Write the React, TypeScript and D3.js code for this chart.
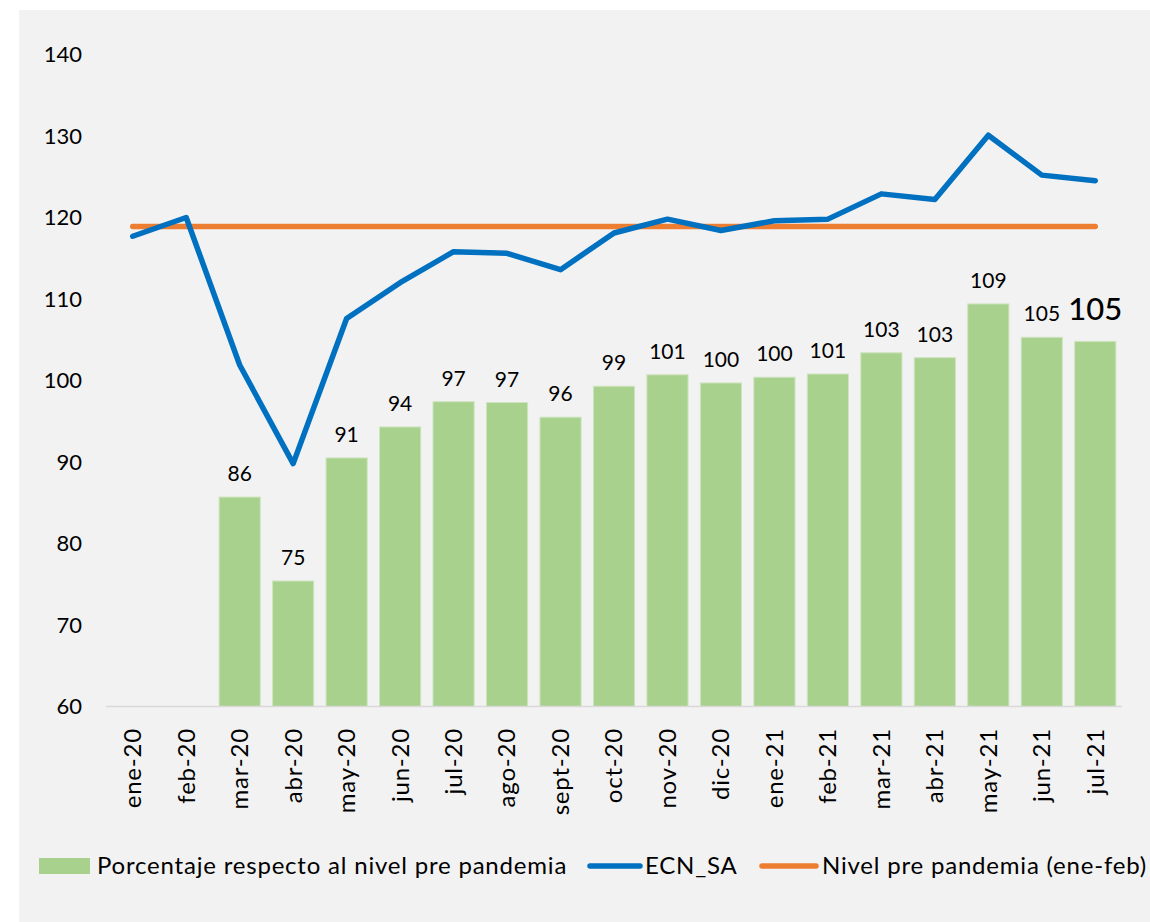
import { useEffect, useRef } from 'react'
import * as d3 from 'd3'

// categories (months)
const months = [
  'ene-20', 'feb-20', 'mar-20', 'abr-20', 'may-20', 'jun-20', 'jul-20', 'ago-20', 'sept-20',
  'oct-20', 'nov-20', 'dic-20', 'ene-21', 'feb-21', 'mar-21', 'abr-21', 'may-21', 'jun-21', 'jul-21',
]

// Porcentaje respecto al nivel pre pandemia (no bar for ene/feb 2020)
const pctValues: (number | null)[] = [
  null, null, 85.7, 75.4, 90.5, 94.3, 97.4, 97.3, 95.5,
  99.3, 100.7, 99.7, 100.4, 100.8, 103.4, 102.8, 109.4, 105.3, 104.8,
]

// ECN_SA
const ecnValues = [
  117.7, 120.0, 101.9, 89.8, 107.6, 112.0, 115.8, 115.6, 113.6,
  118.1, 119.8, 118.4, 119.6, 119.8, 122.9, 122.2, 130.1, 125.2, 124.5,
]

// Nivel pre pandemia (ene-feb)
const preLevel = 118.9

const yTicks = [60, 70, 80, 90, 100, 110, 120, 130, 140]

const W = 1150
const H = 922
const FONT = 'Lato, "Open Sans", sans-serif'

export default function App() {
  const svgRef = useRef<SVGSVGElement>(null)

  useEffect(() => {
    const svg = d3.select(svgRef.current)
    svg.selectAll('*').remove()

    // background panel
    svg.append('rect').attr('width', W).attr('height', H).attr('fill', '#ffffff')
    svg.append('rect')
      .attr('x', 19).attr('y', 10)
      .attr('width', W - 19).attr('height', H - 10)
      .attr('fill', '#f2f2f2')

    const x = d3.scaleBand()
      .domain(months)
      .range([106, 1122])
      .paddingInner(0.23)
      .paddingOuter(0.115)

    const y = d3.scaleLinear()
      .domain([60, 140])
      .range([706.5, 54.5])

    const cx = (m: string) => (x(m) ?? 0) + x.bandwidth() / 2

    // y tick labels
    svg.append('g')
      .selectAll('text')
      .data(yTicks)
      .join('text')
      .attr('x', 82)
      .attr('y', d => y(d))
      .attr('dy', '0.35em')
      .attr('text-anchor', 'end')
      .style('font-family', FONT)
      .style('font-size', '22px')
      .attr('fill', '#000')
      .text(d => d)

    // bars
    const barData = months
      .map((m, i) => ({ m, v: pctValues[i], i }))
      .filter(d => d.v !== null) as { m: string; v: number; i: number }[]

    svg.append('g')
      .selectAll('rect')
      .data(barData)
      .join('rect')
      .attr('x', d => x(d.m) ?? 0)
      .attr('y', d => y(d.v))
      .attr('width', x.bandwidth())
      .attr('height', d => y(60) - y(d.v))
      .attr('fill', '#a9d18e')
      .attr('stroke', '#cfe4c0')
      .attr('stroke-width', 1)

    // baseline
    svg.append('line')
      .attr('x1', 106).attr('x2', 1122)
      .attr('y1', y(60)).attr('y2', y(60))
      .attr('stroke', '#d9d9d9')
      .attr('stroke-width', 1.5)

    // bar labels
    svg.append('g')
      .selectAll('text')
      .data(barData)
      .join('text')
      .attr('x', d => cx(d.m))
      .attr('y', d => y(d.v) - (d.i === months.length - 1 ? 21 : 16))
      .attr('text-anchor', 'middle')
      .style('font-family', FONT)
      .style('font-size', d => (d.i === months.length - 1 ? '31px' : '21px'))
      .style('font-weight', d => (d.i === months.length - 1 ? 500 : 400))
      .attr('fill', '#000')
      .text(d => Math.round(d.v))

    // pre-pandemic level line
    svg.append('line')
      .attr('x1', cx(months[0]))
      .attr('x2', cx(months[months.length - 1]))
      .attr('y1', y(preLevel)).attr('y2', y(preLevel))
      .attr('stroke', '#ed7d31')
      .attr('stroke-width', 5.5)
      .attr('stroke-linecap', 'round')

    // ECN_SA line
    const line = d3.line<number>()
      .x((_, i) => cx(months[i]))
      .y(d => y(d))

    svg.append('path')
      .datum(ecnValues)
      .attr('d', line)
      .attr('fill', 'none')
      .attr('stroke', '#0070c0')
      .attr('stroke-width', 5.5)
      .attr('stroke-linejoin', 'round')
      .attr('stroke-linecap', 'round')

    // x labels (rotated)
    svg.append('g')
      .selectAll('text')
      .data(months)
      .join('text')
      .attr('transform', d => `translate(${cx(d)},728) rotate(-90)`)
      .attr('dy', '0.35em')
      .attr('text-anchor', 'end')
      .style('font-family', FONT)
      .style('font-size', '24px')
      .style('letter-spacing', '0.8px')
      .attr('fill', '#000')
      .text(d => d)

    // legend
    const lg = svg.append('g')
      .style('font-family', FONT)
      .style('font-size', '24px')
      .style('letter-spacing', '0.8px')
    const ly = 866

    lg.append('rect')
      .attr('x', 39).attr('y', ly - 8)
      .attr('width', 51).attr('height', 16)
      .attr('fill', '#a9d18e')
    lg.append('text')
      .attr('x', 97).attr('y', ly).attr('dy', '0.35em')
      .text('Porcentaje respecto al nivel pre pandemia')

    lg.append('line')
      .attr('x1', 590).attr('x2', 640)
      .attr('y1', ly).attr('y2', ly)
      .attr('stroke', '#0070c0').attr('stroke-width', 5.5)
      .attr('stroke-linecap', 'round')
    lg.append('text')
      .attr('x', 645).attr('y', ly).attr('dy', '0.35em')
      .text('ECN_SA')

    lg.append('line')
      .attr('x1', 762).attr('x2', 816)
      .attr('y1', ly).attr('y2', ly)
      .attr('stroke', '#ed7d31').attr('stroke-width', 5.5)
      .attr('stroke-linecap', 'round')
    lg.append('text')
      .attr('x', 822).attr('y', ly).attr('dy', '0.35em')
      .text('Nivel pre pandemia (ene-feb)')
  }, [])

  return (
    <svg
      ref={svgRef}
      width={W}
      height={H}
      style={{ position: 'absolute', left: 0, top: 0, display: 'block' }}
    />
  )
}
